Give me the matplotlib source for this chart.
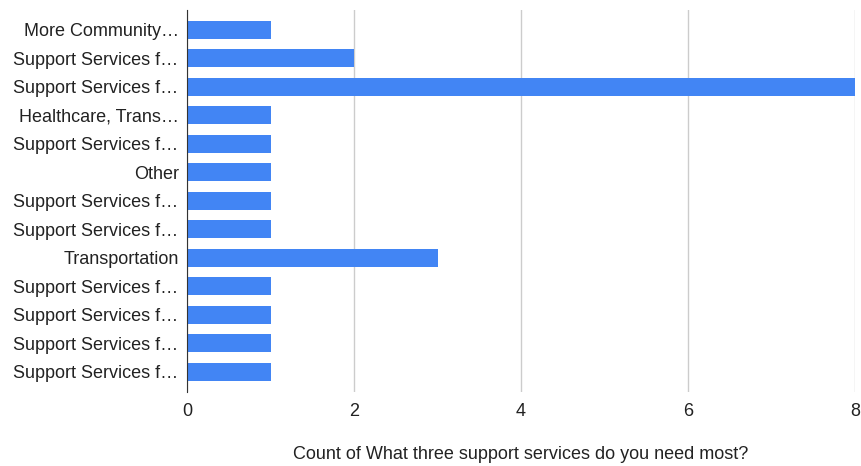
import matplotlib.pyplot as plt

# Data (top to bottom)
labels = [
    'More Community…',
    'Support Services f…',
    'Support Services f…',
    'Healthcare, Trans…',
    'Support Services f…',
    'Other',
    'Support Services f…',
    'Support Services f…',
    'Transportation',
    'Support Services f…',
    'Support Services f…',
    'Support Services f…',
    'Support Services f…',
]
counts = [1, 2, 8, 1, 1, 1, 1, 1, 3, 1, 1, 1, 1]
xticks = [0, 2, 4, 6, 8]

plt.rcParams['font.family'] = ['Liberation Sans', 'DejaVu Sans']

fig = plt.figure(figsize=(8.61, 4.66), dpi=100)
ax = fig.add_axes([0.2172, 0.159, 0.776, 0.82])

ypos = list(range(len(labels)))
ax.barh(ypos, counts, height=0.63, color='#4285F4', zorder=3)

ax.set_yticks(ypos)
ax.set_yticklabels(labels, fontsize=13, color='#222222')
ax.set_ylim(len(labels) - 0.3, -0.7)
ax.set_xlim(0, 8)
ax.set_xticks(xticks)
ax.set_xticklabels([str(t) for t in xticks], fontsize=13, color='#222222')
ax.tick_params(axis='both', length=0)
ax.tick_params(axis='x', pad=8)
ax.tick_params(axis='y', pad=6)

ax.grid(axis='x', color='#cccccc', linewidth=1, zorder=0)
for s in ['top', 'right', 'bottom']:
    ax.spines[s].set_visible(False)
ax.spines['left'].set_color('#333333')
ax.spines['left'].set_zorder(4)

ax.set_xlabel('Count of What three support services do you need most?',
              fontsize=13, color='#222222', labelpad=19)

fig.savefig('out.png', dpi=100)
